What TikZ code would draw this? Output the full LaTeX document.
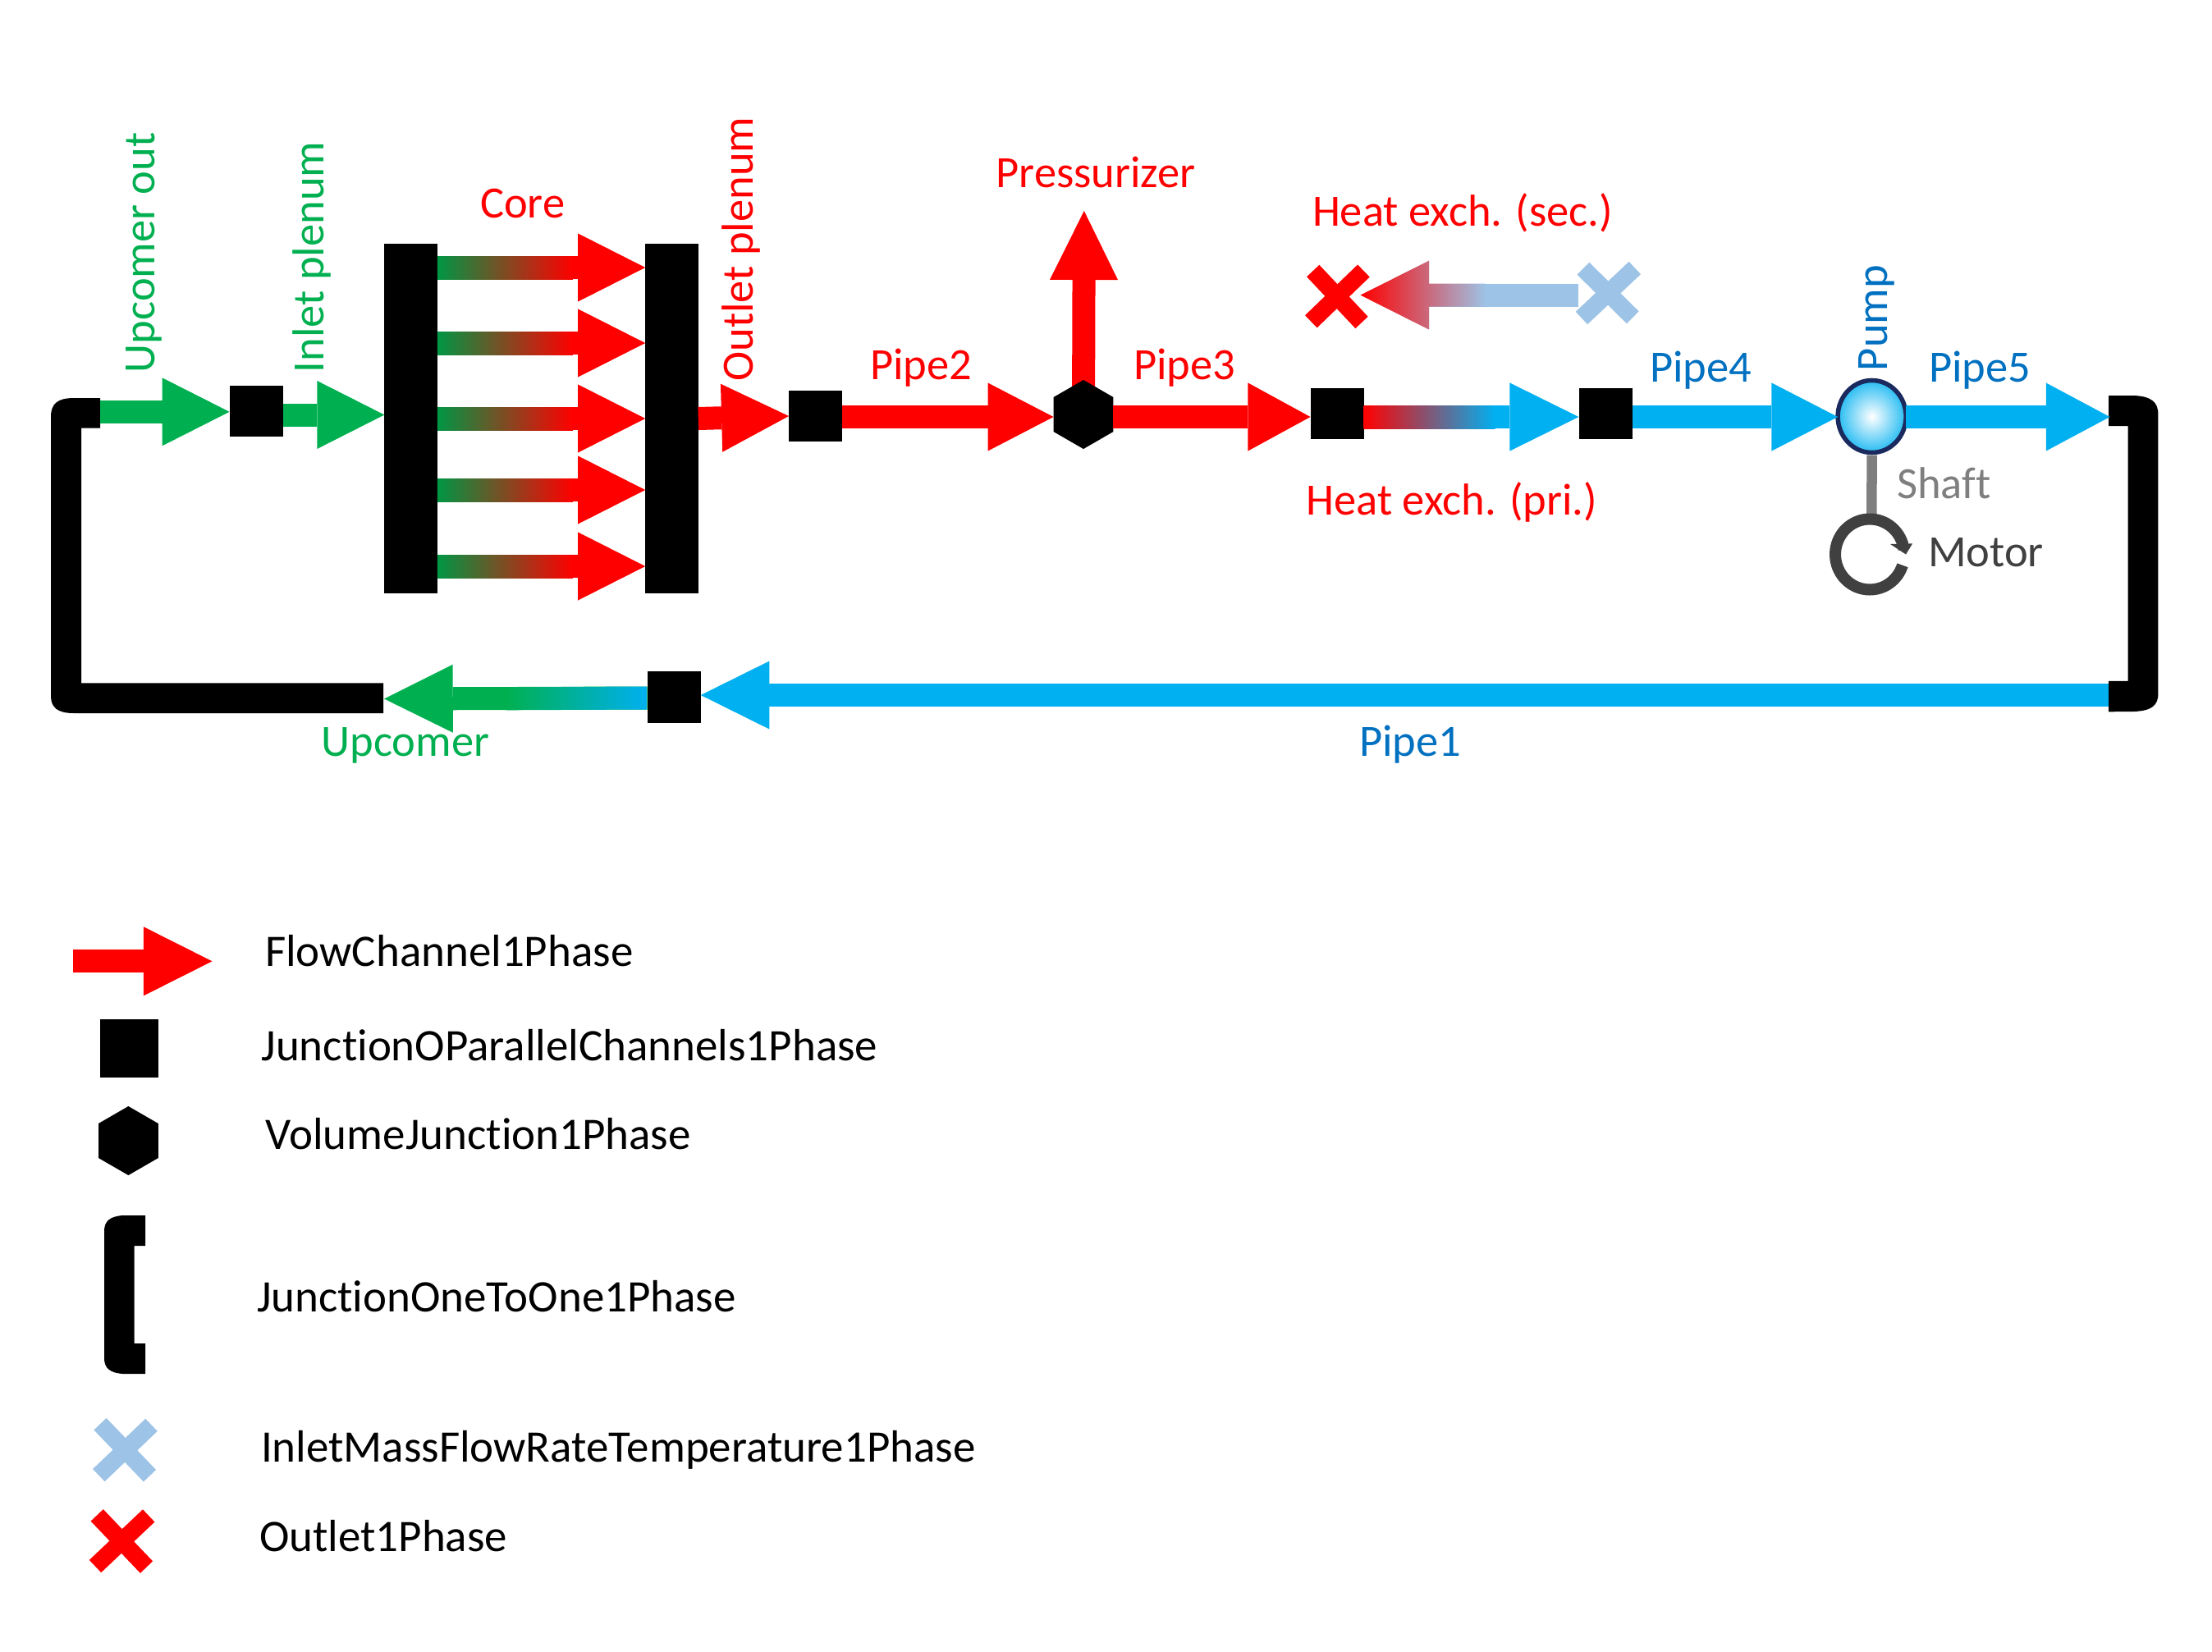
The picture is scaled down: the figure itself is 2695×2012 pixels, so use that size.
\documentclass[tikz,border=0pt]{standalone}
\usepackage{fontspec}
\setmainfont{Carlito}[Ligatures=NoCommon]
\usetikzlibrary{arrows.meta,calc,shapes.geometric,backgrounds}
\definecolor{cgreen}{HTML}{00B050}
\definecolor{cred}{HTML}{FF0000}
\definecolor{cblue}{HTML}{00B0F0}
\definecolor{clabel}{HTML}{0070C0}
\definecolor{clight}{HTML}{9DC3E6}
\definecolor{cgray}{HTML}{7F7F7F}
\definecolor{cdark}{HTML}{404040}
\definecolor{cnavy}{HTML}{1B2A5E}
\tikzset{
  flow/.style={line width=.28cm,-{Triangle[length=#1,width=.83cm,line width=0pt]}},
  flow/.default=.82cm,
  jsq/.style={rectangle,fill=black,inner sep=0pt,outer sep=0pt,minimum width=.65cm,minimum height=.62cm},
  plenum/.style={rectangle,fill=black,inner sep=0pt,outer sep=0pt,minimum width=.645cm,minimum height=4.262cm},
  hexa/.style={regular polygon,regular polygon sides=6,shape border rotate=30,fill=black,inner sep=0pt,outer sep=0pt,minimum size=.84cm},
  lab/.style={anchor=base west,inner sep=0pt,outer sep=0pt,font=\fontsize{15.5}{18}\selectfont},
  leg/.style={lab,text=black,font=\fontsize{15.63}{18}\selectfont},
  xarm/.style={line width=.21cm},
}
\begin{document}
\begin{tikzpicture}[x=.01cm,y=-.01cm]
\useasboundingbox (0,0) rectangle (2695,2012);
\begin{scope}[on background layer]
\fill[white] (0,0) rectangle (2695,2012);
\end{scope}

% junction nodes
\node[jsq] (s1) at (312.1,501) {};
\node[plenum] (inlet) at (500.6,510) {};
\node[plenum] (outlet) at (818.5,510) {};
\node[jsq] (s2) at (993.6,507) {};
\node[hexa] (hex) at (1320,505) {};
\node[jsq] (s4) at (1629,504) {};
\node[jsq] (s5) at (1956,504) {};
\node[jsq] (s3) at (821.2,849.5) {};
\node[ellipse,draw=cnavy,line width=.055cm,inner sep=0pt,outer sep=0pt,minimum width=.83cm,minimum height=.88cm,inner color=white,outer color=cblue!85!white] (pump) at (2280.6,507.5) {};

% one-to-one junctions
\fill[black] (122,485) -- (90,485) .. controls (70,485) and (62,492) .. (62,508) -- (62,848)
  .. controls (62,862) and (70,869) .. (90,869) -- (467,869) -- (467,832.3) -- (99,832.3) -- (99,521.7) -- (122,521.7) -- cycle;
\fill[black] (2569,482) -- (2600,482) .. controls (2621,483) and (2629.4,490) .. (2629.4,505) -- (2629.4,845)
  .. controls (2629.4,860) and (2621,866) .. (2600,867) -- (2569,867.3) -- (2569,829.8) -- (2592.5,829.8) -- (2592.5,519.2) -- (2569,519.2) -- cycle;
\coordinate (jl1) at (122,501.8);
\coordinate (jl2) at (468,851.5);
\coordinate (jr1) at (2570.5,508);
\coordinate (jr2) at (2569,847);

% flow channels
\draw[flow,cgreen] (jl1) -- ($(s1.west)+(0,.8)$);
\draw[flow,cgreen] ($(s1.east)+(0,4.5)$) -- ($(inlet.west)+(0,-4.5)$);
\foreach \nm/\dy in {a/-184,b/-92,c/0,d/87,e/180}{
  \draw[flow,cred] ($(inlet.east)+(0,\dy)$) -- ($(outlet.west)+(0,\dy)$);
  \shade[left color=cgreen!85!black,right color=cred] ($(inlet.east)+(0,\dy-14)$) rectangle ($(inlet.east)+(165,\dy+14)$);
}
\draw[flow,cred] (outlet.east) -- (s2.west);
\draw[flow=.8cm,cred] ($(s2.east)+(0,1)$) -- ($(hex.west)+(0,3)$);
\draw[flow=.76cm,cred] ($(hex.east)+(0,3)$) -- ($(s4.west)+(0,4)$);
\draw[flow=.84cm,cblue] ($(s4.east)+(0,4)$) -- ($(s5.west)+(0,4)$);
\shade[left color=cred,right color=cblue] ($(s4.east)+(0,-10)$) rectangle ($(s4.east)+(160,18)$);
\draw[flow=.806cm,cblue] ($(s5.east)+(0,4)$) -- ($(pump.west)+(0,.5)$);
\draw[flow=.777cm,cblue] ($(pump.east)+(0,.5)$) -- (jr1);
\draw[flow=.836cm,cblue] (jr2) -- ($(s3.east)+(0,-2.5)$);
\draw[flow=.837cm,cgreen] ($(s3.west)+(0,1)$) -- (jl2);
\shade[left color=cgreen,right color=cblue] (616.5,837.3) -- (788.5,836.5) -- (788.5,864.5) -- (616.5,865.3) -- cycle;
\begin{scope}[on background layer]
\coordinate (ptip) at (1320.8,257);
\draw[flow=.84cm,cred] (hex.center) -- (ptip);
\end{scope}

% heat exchanger secondary side
\coordinate (secin) at (1923,359.6);
\coordinate (secout) at (1658,359.6);
\draw[flow=.83cm,clight] (secin) -- (secout);
\shade[left color=cred,right color=clight] (1657.5,359.6) -- (1741,317.6) -- (1741,345.6) -- (1810,345.6) -- (1810,373.6) -- (1741,373.6) -- (1741,401.6) -- cycle;
\draw[xarm,cred] (1599.7,330) -- (1659,393);
\draw[xarm,cred] (1661.4,330) -- (1597.3,391.8);
\draw[xarm,clight] (1928.9,327.2) -- (1989.2,386.8);
\draw[xarm,clight] (1991.8,326.5) -- (1926.9,387.5);

% shaft and motor
\coordinate (mtop) at (2280.3,627);
\draw[line width=.125cm,cgray] ($(pump.south)+(0,3)$) -- (mtop);
\draw[line width=.14cm,cdark] plot[domain=18:352,samples=70] ({2278+42*cos(\x)},{675.5+43*sin(\x)});
\fill[cdark] (2303,663) -- (2330,662.4) -- (2322,675.5) -- cycle;

% labels
\node[lab,text=cgreen,rotate=90] (lupout) at (188.5,454) {Upcomer out};
\node[lab,text=cgreen,rotate=90] (linlet) at (394.5,454) {Inlet plenum};
\node[lab,text=cred,rotate=90] (loutlet) at (917,464.5) {Outlet plenum};
\node[lab,text=cred] (lcore) at (585,265) {Core};
\node[lab,text=cgreen] (lupc) at (391.5,921) {Upcomer};
\node[lab,text=cred] (lpress) at (1213.5,228) {Pressurizer};
\node[lab,text=cred] (lsec) at (1599,275) {Heat exch. (sec.)};
\node[lab,text=cred] (lpri) at (1591.5,627.5) {Heat exch. (pri.)};
\node[lab,text=cred] (lp2) at (1060,462) {Pipe2};
\node[lab,text=cred] (lp3) at (1381,462) {Pipe3};
\node[lab,text=clabel] (lp4) at (2010,465) {Pipe4};
\node[lab,text=clabel] (lp5) at (2350,465) {Pipe5};
\node[lab,text=clabel] (lp1) at (1656,921) {Pipe1};
\node[lab,text=clabel,rotate=90] (lpump) at (2299,452) {Pump};
\node[lab,text=cgray] (lshaft) at (2311,607) {Shaft};
\node[lab,text=cdark] (lmotor) at (2349,690) {Motor};

% legend
\coordinate (ltail) at (88.6,1171.3);
\coordinate (lhead) at (258.5,1171.3);
\draw[line width=.28cm,cred,-{Triangle[length=.835cm,width=.84cm,line width=0pt]}] (ltail) -- (lhead);
\node[jsq,minimum width=.70cm,minimum height=.71cm] (lsq) at (157.5,1277) {};
\node[hexa] (lhex) at (156.4,1390) {};
\fill[black] (177,1481) -- (150,1481) .. controls (134,1482) and (127,1488) .. (127,1500) -- (127,1655)
  .. controls (127,1667) and (134,1673) .. (150,1674) -- (177,1674) -- (177,1637) -- (163.6,1637) -- (163.6,1518) -- (177,1518) -- cycle;
\draw[xarm,clight] (122,1735.2) -- (182.5,1798.2);
\draw[xarm,clight] (184.5,1736.3) -- (120.3,1797.6);
\draw[xarm,cred] (118.2,1846.3) -- (178.5,1909.6);
\draw[xarm,cred] (181.2,1846.9) -- (116,1908.5);
\node[leg] (t1) at (323,1177.5) {FlowChannel1Phase};
\node[leg] (t2) at (318.5,1292) {JunctionOParallelChannels1Phase};
\node[leg] (t3) at (323.5,1400) {VolumeJunction1Phase};
\node[leg] (t4) at (313,1598) {JunctionOneToOne1Phase};
\node[leg] (t5) at (318,1781) {InletMassFlowRateTemperature1Phase};
\node[leg] (t6) at (316,1890.5) {Outlet1Phase};
\end{tikzpicture}
\end{document}
